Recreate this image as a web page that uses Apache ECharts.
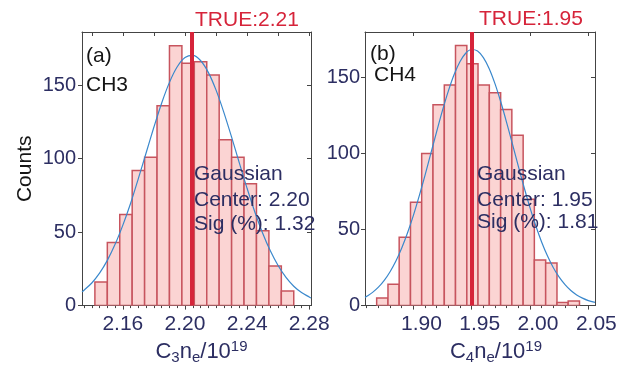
<!DOCTYPE html>
<html>
<head>
<meta charset="utf-8">
<script src="https://cdn.jsdelivr.net/npm/echarts@6/dist/echarts.min.js"></script>
<style>
html,body{margin:0;padding:0;background:#fff;}
#chart{width:629px;height:370px;}
</style>
</head>
<body>
<div id="chart"></div>
<script>
// ---------- data ----------
// Panel (a) CH3
const aBinEdges = [2.142, 2.150, 2.158, 2.166, 2.174, 2.182, 2.190, 2.198, 2.206, 2.214, 2.222, 2.230, 2.238, 2.246, 2.254, 2.262, 2.270];
const aCounts = [16, 43, 62, 92, 101, 136, 177, 165, 166, 157, 113, 101, 83, 51, 27, 10];
const aFitX = [2.1337, 2.135, 2.140, 2.145, 2.150, 2.155, 2.160, 2.165, 2.170, 2.175, 2.180, 2.185, 2.190, 2.195, 2.200, 2.205, 2.210, 2.215, 2.220, 2.225, 2.230, 2.235, 2.240, 2.245, 2.250, 2.255, 2.260, 2.265, 2.270, 2.275, 2.280, 2.2811];
const aFitY = [9.4, 10.5, 15.4, 22.1, 30.8, 41.7, 54.8, 69.7, 86.6, 104.1, 121.6, 138.0, 152.0, 162.6, 168.9, 170.4, 166.9, 158.8, 146.7, 131.6, 114.7, 97.0, 79.7, 63.6, 49.3, 37.1, 27.1, 19.2, 13.2, 8.9, 5.8, 5.1];
const aTrue = 2.2043;
const aXMajorTicks = [2.16, 2.20, 2.24, 2.28];
const aXMinorTicks = [2.135, 2.140, 2.145, 2.150, 2.155, 2.165, 2.170, 2.175, 2.180, 2.185, 2.190, 2.195, 2.205, 2.210, 2.215, 2.220, 2.225, 2.230, 2.235, 2.245, 2.250, 2.255, 2.260, 2.265, 2.270, 2.275];
const aXTopTicks = [2.14, 2.16, 2.18, 2.20, 2.22, 2.24, 2.26, 2.28];
const aXRange = [2.1337, 2.2811];
const aYMax = 186.3;

// Panel (b) CH4
const bBinEdges = [1.8685, 1.8782, 1.8878, 1.8975, 1.9071, 1.9168, 1.9265, 1.9361, 1.9458, 1.9554, 1.9651, 1.9748, 1.9844, 1.9941, 2.0037, 2.0134, 2.0231, 2.0327, 2.0424];
const bCounts = [5, 14, 45, 68, 100, 132, 145, 171, 159, 145, 140, 129, 112, 70, 30, 28, 2, 3];
const bFitX = [1.8585, 1.860, 1.865, 1.870, 1.875, 1.880, 1.885, 1.890, 1.895, 1.900, 1.905, 1.910, 1.915, 1.920, 1.925, 1.930, 1.935, 1.940, 1.945, 1.950, 1.955, 1.960, 1.965, 1.970, 1.975, 1.980, 1.985, 1.990, 1.995, 2.000, 2.005, 2.010, 2.015, 2.020, 2.025, 2.030, 2.035, 2.040, 2.045, 2.050, 2.0557];
const bFitY = [5.4, 6.1, 8.7, 12.1, 16.6, 22.3, 29.3, 37.9, 47.9, 59.3, 72.1, 85.8, 100.2, 114.6, 128.5, 141.2, 152.1, 160.5, 166.1, 168.4, 167.4, 163.1, 155.8, 145.8, 133.7, 120.2, 106.0, 91.5, 77.5, 64.3, 52.3, 41.7, 32.6, 24.9, 18.7, 13.8, 9.9, 7.0, 4.9, 3.3, 2.1];
const bTrue = 1.9502;
const bXMajorTicks = [1.90, 1.95, 2.00, 2.05];
const bXMinorTicks = [1.86, 1.87, 1.88, 1.89, 1.91, 1.92, 1.93, 1.94, 1.96, 1.97, 1.98, 1.99, 2.01, 2.02, 2.03, 2.04];
const bXTopTicks = [1.90, 1.95, 2.00, 2.05];
const bXRange = [1.8585, 2.0557];
const bYMax = 179.9;

const yTicks = [0, 50, 100, 150];

const aTexts = { tag: '(a)', gas: 'CH3', trueLabel: 'TRUE:2.21', fit: ['Gaussian', 'Center: 2.20', 'Sig (%): 1.32'] };
const bTexts = { tag: '(b)', gas: 'CH4', trueLabel: 'TRUE:1.95', fit: ['Gaussian', 'Center: 1.95', 'Sig (%): 1.81'] };

// ---------- styling ----------
const FONT = '"Liberation Sans", Arial, sans-serif';
const NAVY = '#2c2e62';
const FRAME = '#444';
const RED = '#d6243a';

function histData(edges, counts) {
  return counts.map((c, i) => [edges[i], edges[i + 1], c]);
}
function zip(xs, ys) { return xs.map((x, i) => [x, ys[i]]); }

function renderBar(params, api) {
  const p0 = api.coord([api.value(0), api.value(2)]);
  const p1 = api.coord([api.value(1), 0]);
  return {
    type: 'rect',
    shape: { x: p0[0], y: p0[1], width: p1[0] - p0[0], height: p1[1] - p0[1] },
    style: { fill: '#fbd4d3', stroke: '#c7545e', lineWidth: 1.5 }
  };
}

const xNameRich = {
  m: { fontSize: 22, color: NAVY, fontFamily: FONT },
  s: { fontSize: 15, color: NAVY, fontFamily: FONT, padding: [11, 0, 0, 0] },
  p: { fontSize: 15, color: NAVY, fontFamily: FONT, padding: [0, 0, 10, 0] }
};

function xAxesFor(gridIndex, range, major, minor, top, sub, shift) {
  return [
    {
      gridIndex, type: 'value', position: 'bottom', min: range[0], max: range[1],
      axisLine: { show: true, lineStyle: { color: FRAME, width: 1 } },
      axisTick: { show: true, inside: false, length: 4, customValues: major, lineStyle: { color: FRAME } },
      axisLabel: { show: true, customValues: major, formatter: v => v.toFixed(2), fontSize: 21, color: NAVY, fontFamily: FONT, margin: 8, padding: [0, 0, 0, shift * 2] },
      splitLine: { show: false },
      name: '{m|C}{s|' + sub + '}{m|n}{s|e}{m|/10}{p|19}',
      nameLocation: 'middle', nameGap: 28,
      nameTextStyle: { rich: xNameRich, padding: [0, 0, 0, gridIndex === 0 ? 10 : 32] }
    },
    {
      gridIndex, type: 'value', position: 'bottom', min: range[0], max: range[1],
      axisLine: { show: false },
      axisTick: { show: true, inside: false, length: 2.5, customValues: minor, lineStyle: { color: FRAME } },
      axisLabel: { show: false }, splitLine: { show: false }
    },
    {
      gridIndex, type: 'value', position: 'top', min: range[0], max: range[1],
      axisLine: { show: true, lineStyle: { color: FRAME, width: 1 } },
      axisTick: { show: true, inside: true, length: 4, customValues: top, lineStyle: { color: FRAME } },
      axisLabel: { show: false }, splitLine: { show: false }
    }
  ];
}

function yAxesFor(gridIndex, max, margin, withName) {
  const left = {
    gridIndex, type: 'value', position: 'left', min: 0, max: max,
    axisLine: { show: true, lineStyle: { color: FRAME, width: 1 } },
    axisTick: { show: true, inside: false, length: 4, customValues: yTicks, lineStyle: { color: FRAME } },
    axisLabel: { show: true, customValues: yTicks, fontSize: 20, color: NAVY, fontFamily: FONT, margin: margin },
    splitLine: { show: false }
  };
  if (withName) {
    Object.assign(left, {
      name: 'Counts', nameLocation: 'middle', nameRotate: 90, nameGap: 46,
      nameTextStyle: { fontSize: 21, color: '#151515', fontFamily: FONT }
    });
  }
  const right = {
    gridIndex, type: 'value', position: 'right', min: 0, max: max,
    axisLine: { show: true, lineStyle: { color: FRAME, width: 1 } },
    axisTick: { show: true, inside: true, length: 4, customValues: yTicks, lineStyle: { color: FRAME } },
    axisLabel: { show: false }, splitLine: { show: false }
  };
  return [left, right];
}

function seriesFor(k, edges, counts, fx, fy, trueVal) {
  const xi = k * 3, yi = k * 2;
  return [
    {
      type: 'custom', xAxisIndex: xi, yAxisIndex: yi, renderItem: renderBar,
      encode: { x: [0, 1], y: 2 }, data: histData(edges, counts), z: 2, clip: true
    },
    {
      type: 'line', xAxisIndex: xi, yAxisIndex: yi, data: zip(fx, fy), showSymbol: false,
      smooth: 0.3, lineStyle: { color: '#3a88cc', width: 1.2 }, z: 3, clip: true,
      markLine: {
        silent: true, symbol: ['none', 'none'], label: { show: false }, precision: 4,
        lineStyle: { color: RED, width: 4, type: 'solid' },
        data: [{ xAxis: trueVal }], z: 4
      }
    }
  ];
}

function textEl(x, y, text, color, size) {
  return {
    type: 'text', x: x, y: y, z: 100,
    style: { text: text, fill: color, font: size + 'px ' + FONT, textVerticalAlign: 'middle', verticalAlign: 'middle', align: 'left' }
  };
}

const graphics = [
  textEl(195, 20, aTexts.trueLabel, RED, 21),
  textEl(479, 19, bTexts.trueLabel, RED, 21),
  textEl(86, 56, aTexts.tag, '#151515', 21),
  textEl(86, 85, aTexts.gas, '#151515', 21),
  textEl(370, 54, bTexts.tag, '#151515', 21),
  textEl(374, 75, bTexts.gas, '#151515', 21),
  textEl(194, 174, aTexts.fit[0], NAVY, 21),
  textEl(194, 200, aTexts.fit[1], NAVY, 21),
  textEl(194, 224, aTexts.fit[2], NAVY, 21),
  textEl(477, 174, bTexts.fit[0], NAVY, 21),
  textEl(477, 200, bTexts.fit[1], NAVY, 21),
  textEl(477, 222, bTexts.fit[2], NAVY, 21)
];

const option = {
  animation: false,
  backgroundColor: '#ffffff',
  textStyle: { fontFamily: FONT },
  grid: [
    { left: 82, top: 32, width: 229, height: 281, containLabel: false },
    { left: 365, top: 32, width: 230, height: 281, containLabel: false }
  ],
  xAxis: [].concat(
    xAxesFor(0, aXRange, aXMajorTicks, aXMinorTicks, aXTopTicks, '3', 0),
    xAxesFor(1, bXRange, bXMajorTicks, bXMinorTicks, bXTopTicks, '4', 8)
  ),
  yAxis: [].concat(
    yAxesFor(0, aYMax, 6, true),
    yAxesFor(1, bYMax, 5, false)
  ),
  series: [].concat(
    seriesFor(0, aBinEdges, aCounts, aFitX, aFitY, aTrue),
    seriesFor(1, bBinEdges, bCounts, bFitX, bFitY, bTrue)
  ),
  graphic: graphics
};

const chart = echarts.init(document.getElementById('chart'), null, { renderer: 'canvas' });
chart.setOption(option);
</script>
</body>
</html>
